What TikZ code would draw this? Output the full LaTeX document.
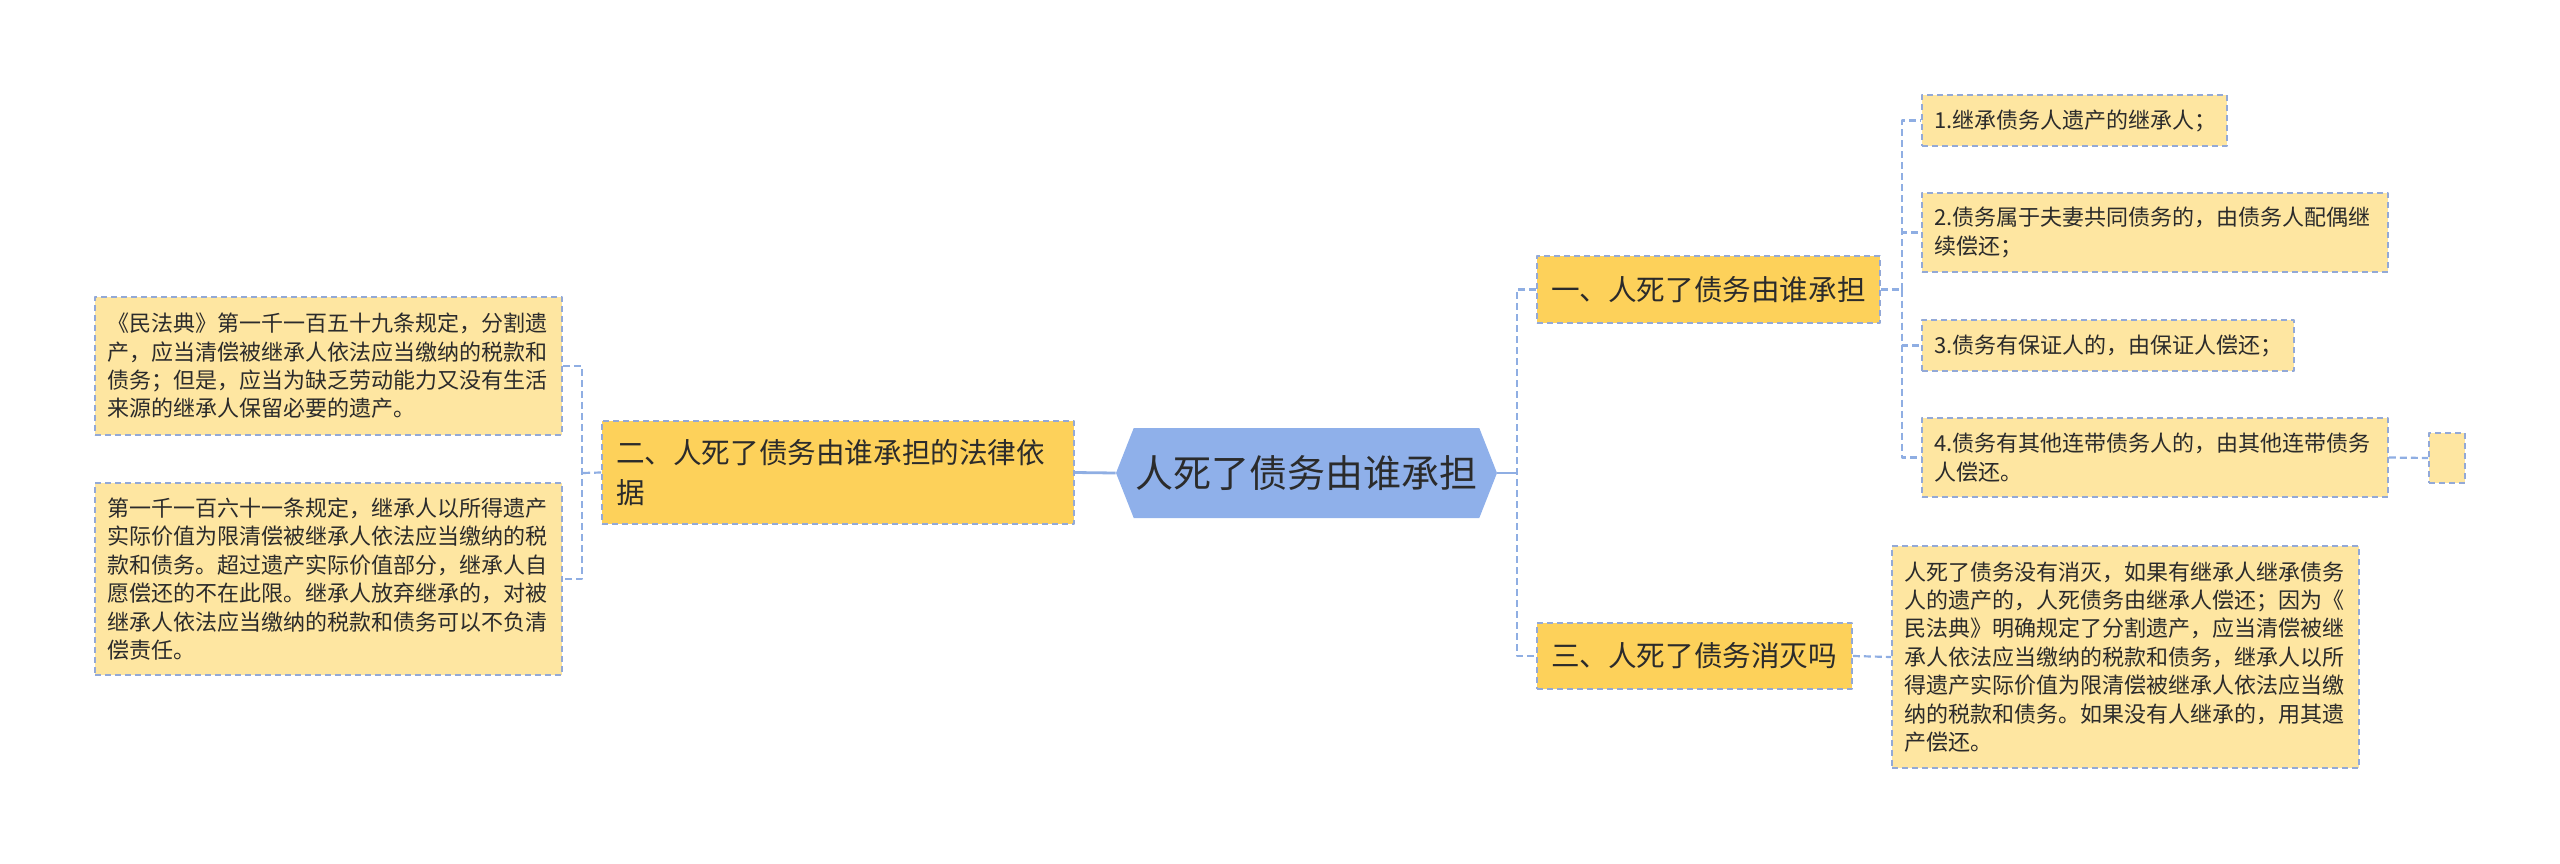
\documentclass[tikz,border=0pt]{standalone}
\usepackage{fontspec}
\setmainfont{Noto Sans CJK SC}
\usetikzlibrary{shapes.symbols}
\definecolor{rootc}{HTML}{8FB0EA}
\definecolor{branchc}{HTML}{FDD15A}
\definecolor{leafc}{HTML}{FEE6A1}
\definecolor{edgec}{HTML}{93A9D7}
\definecolor{linkc}{HTML}{8FAEE3}
\definecolor{txtc}{HTML}{2B2B2B}
\begin{document}
\begin{tikzpicture}[x=0.5pt, y=-0.5pt, line join=round,
  box/.style={draw=edgec, line width=0.9pt, dash pattern=on 3pt off 2pt, inner ysep=0pt, text=txtc},
  leaf/.style 2 args={box, fill=leafc, inner xsep=6pt, text width=#1, minimum height=#2, align=left, font=\fontsize{11}{14.2}\selectfont},
  branch/.style 2 args={box, fill=branchc, inner xsep=7pt, text width=#1, minimum height=#2, align=left, font=\fontsize{14.3}{20}\selectfont},
  root/.style={signal, signal to=east and west, signal pointer angle=137, fill=rootc, inner sep=0pt, minimum width=190.5pt, minimum height=45pt, text=txtc, font=\fontsize{19}{22}\selectfont},
  link/.style={draw=linkc, line width=1.4pt},
  dlink/.style={draw=linkc, line width=1.1pt, dash pattern=on 3.5pt off 2pt}]
\useasboundingbox (0,0) rectangle (2560,863);
\node[root] (root) at (1306.5,473) {人死了债务由谁承担};
\node[branch={222pt}{51.5pt}] (b2) at (838,472.5) {二、人死了债务由谁承担的法律依\\据};
\node[branch={157.5pt}{33.5pt}] (b1) at (1708.5,289.5) {一、人死了债务由谁承担};
\node[branch={143.5pt}{33pt}] (b3) at (1694.5,656) {三、人死了债务消灭吗};
\node[leaf={221.5pt}{69pt}] (ll1) at (328.5,366) {《民法典》第一千一百五十九条规定，分割遗\\产，应当清偿被继承人依法应当缴纳的税款和\\债务；但是，应当为缺乏劳动能力又没有生活\\来源的继承人保留必要的遗产。};
\node[leaf={221.5pt}{96pt}] (ll2) at (328.5,579) {第一千一百六十一条规定，继承人以所得遗产\\实际价值为限清偿被继承人依法应当缴纳的税\\款和债务。超过遗产实际价值部分，继承人自\\愿偿还的不在此限。继承人放弃继承的，对被\\继承人依法应当缴纳的税款和债务可以不负清\\偿责任。};
\node[leaf={140.5pt}{25.5pt}] (l11) at (2074.5,120.5) {1.继承债务人遗产的继承人；};
\node[leaf={221pt}{39.5pt}] (l12) at (2155,232.5) {2.债务属于夫妻共同债务的，由债务人配偶继\\续偿还；};
\node[leaf={174pt}{25.5pt}] (l13) at (2108,345.5) {3.债务有保证人的，由保证人偿还；};
\node[leaf={221pt}{39.5pt}] (l14) at (2155,457.5) {4.债务有其他连带债务人的，由其他连带债务\\人偿还。};
\node[box, fill=leafc, minimum width=18pt, minimum height=25pt, inner sep=0pt] (e14) at (2447,458) {};
\node[leaf={221.5pt}{111pt}] (l31) at (2125.5,657) {人死了债务没有消灭，如果有继承人继承债务\\人的遗产的，人死债务由继承人偿还；因为《\\民法典》明确规定了分割遗产，应当清偿被继\\承人依法应当缴纳的税款和债务，继承人以所\\得遗产实际价值为限清偿被继承人依法应当缴\\纳的税款和债务。如果没有人继承的，用其遗\\产偿还。};
\coordinate (rj) at (1517,473);
\coordinate (lj) at (582,473);
\coordinate (r1) at (1902,289.5);
\draw[link] (root.west) -- (b2.east);
\draw[link] (root.east) -- (rj);
\draw[dlink] (b1.west) -| (rj) |- (b3.west);
\draw[dlink] (b2.west) -- (lj);
\draw[dlink] (ll1.east) -| (lj) |- (ll2.east);
\draw[dlink] (b1.east) -- (r1);
\foreach \n in {l11,l12,l13,l14} \draw[dlink] (r1) |- (\n.west);
\draw[dlink] (l14.east) -- (e14.west);
\draw[dlink] (b3.east) -- (l31.west);
\end{tikzpicture}
\end{document}
